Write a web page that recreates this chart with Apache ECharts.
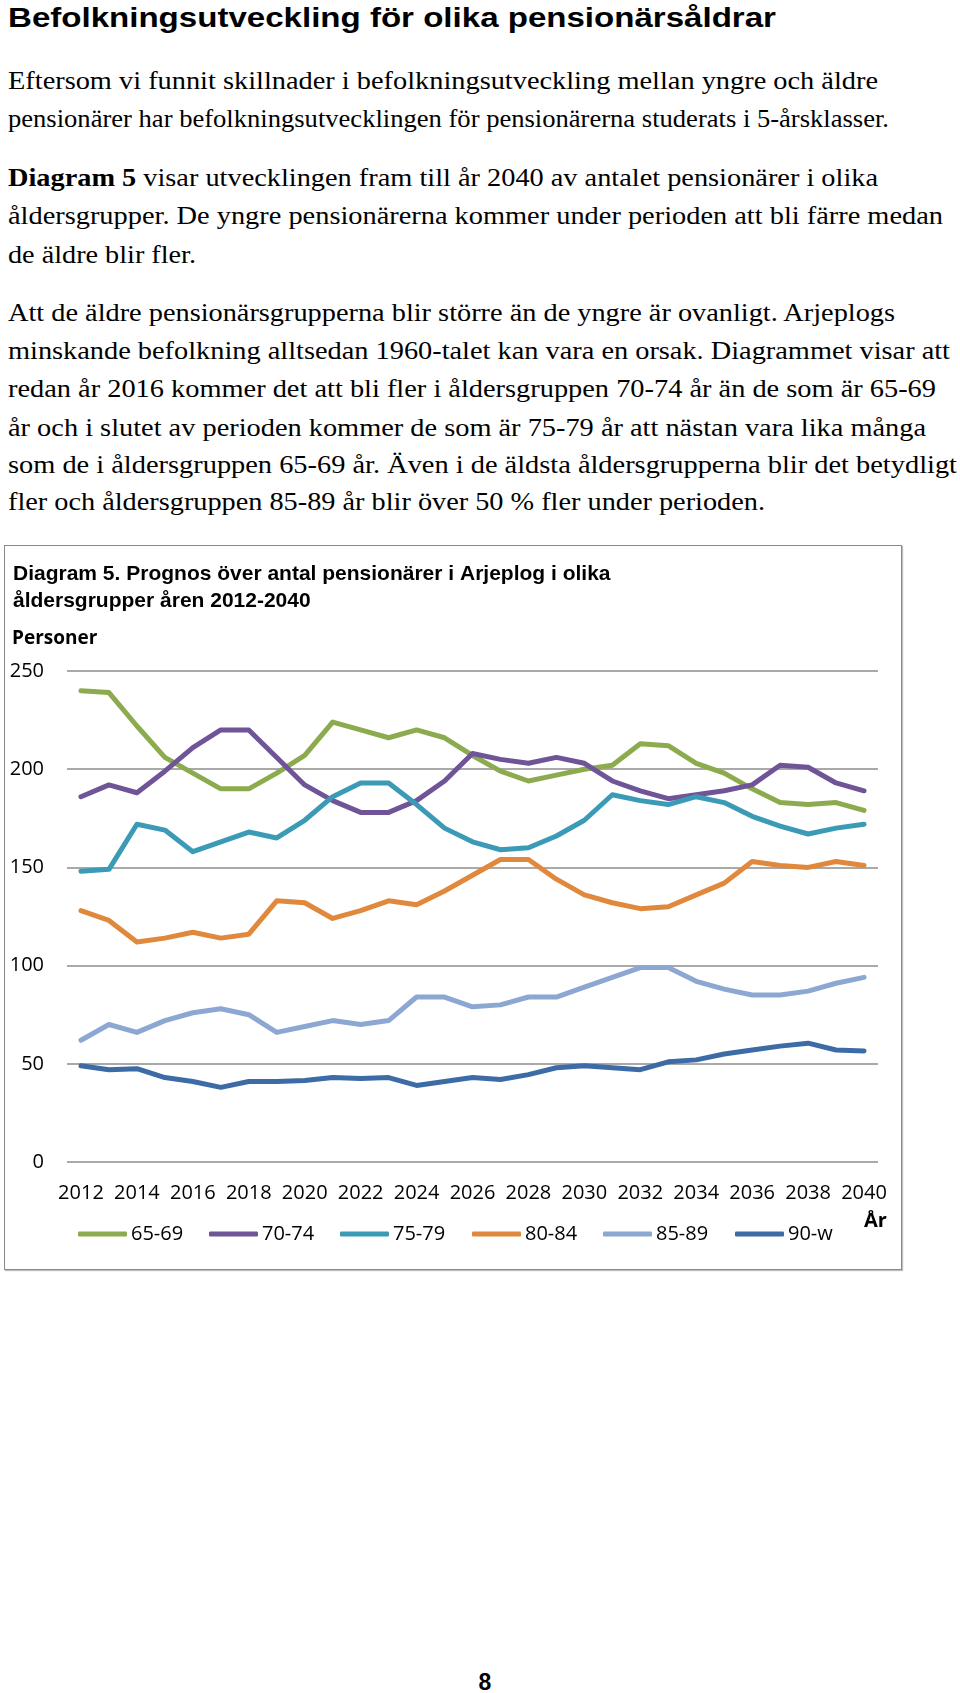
<!DOCTYPE html>
<html>
<head>
<meta charset="utf-8">
<script src="https://cdn.jsdelivr.net/npm/echarts@6/dist/echarts.min.js"></script>
<style>
  html, body { margin: 0; padding: 0; background: #fff; }
  body { width: 960px; height: 1693px; position: relative; overflow: hidden; }
  .ln { position: absolute; left: 7.5px; white-space: nowrap; transform-origin: 0 0;
        font-family: "Liberation Serif", "Times New Roman", serif; font-size: 25px; line-height: 30px; color: #000; }
  .hd { position: absolute; left: 7.5px; top: 1px; white-space: nowrap; transform-origin: 0 0;
        font-family: "Liberation Sans", Arial, sans-serif; font-weight: bold; font-size: 27px; line-height: 34px; color: #000; }
  #chart { position: absolute; left: 4px; top: 545px; width: 896px; height: 723px;
           border: 1.5px solid #8a8a8a; box-shadow: 1px 1px 1px #bdbdbd; }
  #page { position: absolute; left: 470px; top: 1668px; width: 30px; text-align: center;
          font-family: "Liberation Sans", Arial, sans-serif; font-weight: bold; font-size: 23px; line-height: 28px; }
</style>
</head>
<body>
<div class="hd" data-w="768">Befolkningsutveckling för olika pensionärsåldrar</div>
<div class="ln" style="top:66px" data-w="870">Eftersom vi funnit skillnader i befolkningsutveckling mellan yngre och äldre</div>
<div class="ln" style="top:104px" data-w="881">pensionärer har befolkningsutvecklingen för pensionärerna studerats i 5-årsklasser.</div>
<div class="ln" style="top:163px" data-w="870"><b>Diagram 5</b> visar utvecklingen fram till år 2040 av antalet pensionärer i olika</div>
<div class="ln" style="top:201px" data-w="935">åldersgrupper. De yngre pensionärerna kommer under perioden att bli färre medan</div>
<div class="ln" style="top:240px" data-w="188">de äldre blir fler.</div>
<div class="ln" style="top:298px" data-w="887">Att de äldre pensionärsgrupperna blir större än de yngre är ovanligt. Arjeplogs</div>
<div class="ln" style="top:336px" data-w="942">minskande befolkning alltsedan 1960-talet kan vara en orsak. Diagrammet visar att</div>
<div class="ln" style="top:374px" data-w="928">redan år 2016 kommer det att bli fler i åldersgruppen 70-74 år än de som är 65-69</div>
<div class="ln" style="top:413px" data-w="918">år och i slutet av perioden kommer de som är 75-79 år att nästan vara lika många</div>
<div class="ln" style="top:450px" data-w="949">som de i åldersgruppen 65-69 år. Även i de äldsta åldersgrupperna blir det betydligt</div>
<div class="ln" style="top:487px" data-w="757">fler och åldersgruppen 85-89 år blir över 50 % fler under perioden.</div>
<div id="chart"></div>
<div id="page">8</div>
<script>
// ---- data ----
const years = ['2012','2013','2014','2015','2016','2017','2018','2019','2020','2021','2022','2023','2024','2025',
  '2026','2027','2028','2029','2030','2031','2032','2033','2034','2035','2036','2037','2038','2039','2040'];
const seriesNames = ['65-69','70-74','75-79','80-84','85-89','90-w'];
const age65_69 = [240,239,222,206,198,190,190,198,207,224,220,216,220,216,207,199,194,197,200,202,213,212,203,198,190,183,182,183,179];
const age70_74 = [186,192,188,199,211,220,220,206,192,184,178,178,184,194,208,205,203,206,203,194,189,185,187,189,192,202,201,193,189];
const age75_79 = [148,149,172,169,158,163,168,165,174,186,193,193,182,170,163,159,160,166,174,187,184,182,186,183,176,171,167,170,172];
const age80_84 = [128,123,112,114,117,114,116,133,132,124,128,133,131,138,146,154,154,144,136,132,129,130,136,142,153,151,150,153,151];
const age85_89 = [62,70,66,72,76,78,75,66,69,72,70,72,84,84,79,80,84,84,89,94,99,99,92,88,85,85,87,91,94];
const age90_w  = [49,47,47.5,43,41,38,41,41,41.5,43,42.5,43,39,41,43,42,44.5,48,49,48,47,51,52,55,57,59,60.5,57,56.5];
const yTicks = { min: 0, max: 250, step: 50 };
const yName = 'Personer';
const xName = 'År';
const chartTitle = 'Diagram 5. Prognos över antal pensionärer i Arjeplog i olika\nåldersgrupper åren 2012-2040';

// ---- styles / layout ----
const colors = ['#8cab4e','#6f5597','#3b9bb6','#e0893c','#8ca8d2','#3d6ba6'];
const legendLefts = [73, 204, 335, 467, 598, 730];
const allData = [age65_69, age70_74, age75_79, age80_84, age85_89, age90_w];

// fit text lines to measured widths
document.querySelectorAll('[data-w]').forEach(el => {
  const target = parseFloat(el.getAttribute('data-w'));
  const w = el.getBoundingClientRect().width;
  if (w > 0) el.style.transform = 'scaleX(' + (target / w) + ')';
});

const chart = echarts.init(document.getElementById('chart'), null, { renderer: 'canvas' });
const labelFont = '"Open Sans", "Noto Sans", sans-serif';
chart.setOption({
  animation: false,
  backgroundColor: '#fff',
  title: {
    text: chartTitle, left: 8, top: 15, padding: 0,
    textStyle: { fontFamily: '"Liberation Sans", Arial, sans-serif', fontWeight: 'bold', fontSize: 21, lineHeight: 27, color: '#000' }
  },
  graphic: [
    { type: 'text', left: 7, top: 83, style: { text: yName, font: 'bold 19px "Open Sans"', fill: '#000' } },
    { type: 'text', left: 859, top: 665, style: { text: xName, font: 'bold 20px "Open Sans"', fill: '#000' } }
  ],
  legend: seriesNames.map((n, i) => ({
    data: [n], left: legendLefts[i], top: 678, padding: 0, itemGap: 0,
    itemWidth: 49, itemHeight: 5, icon: 'roundRect',
    textStyle: { fontSize: 20, fontFamily: labelFont, color: '#000', padding: [0, 0, 0, -1] }
  })),
  grid: { left: 62, right: 23, top: 125, bottom: 107, containLabel: false, outerBoundsMode: 'none' },
  xAxis: {
    type: 'category', data: years, boundaryGap: true,
    axisLine: { show: false }, axisTick: { show: false },
    axisLabel: { interval: 1, margin: 21, fontSize: 20, fontFamily: labelFont, color: '#000' },
    splitLine: { show: false }
  },
  yAxis: {
    type: 'value', min: yTicks.min, max: yTicks.max, interval: yTicks.step,
    axisLine: { show: false }, axisTick: { show: false },
    axisLabel: { margin: 23, fontSize: 20, fontFamily: labelFont, color: '#000' },
    splitLine: { lineStyle: { color: '#8c8c8c', width: 1.5 } }
  },
  series: seriesNames.map((n, i) => ({
    name: n, type: 'line', data: allData[i], color: colors[i],
    symbol: 'none', smooth: false,
    lineStyle: { width: 5, color: colors[i], cap: 'round', join: 'round' },
    emphasis: { disabled: true }
  }))
});
</script>
</body>
</html>
